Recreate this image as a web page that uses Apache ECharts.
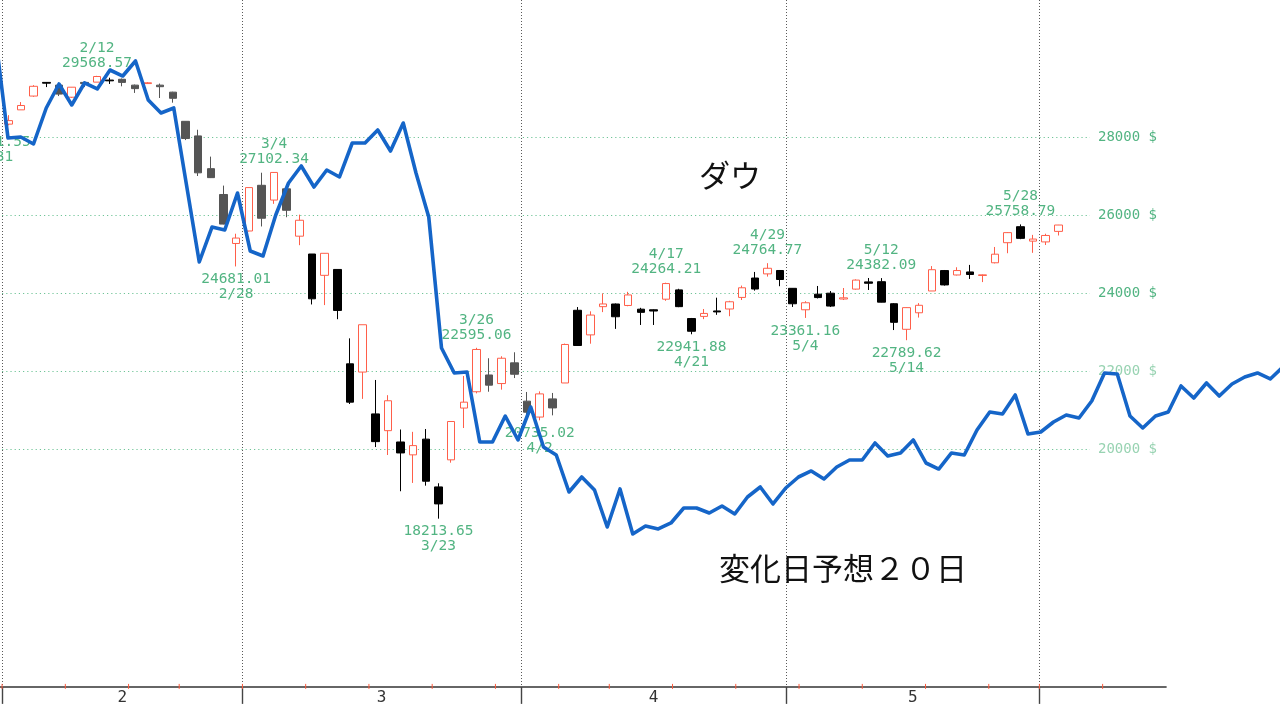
<!DOCTYPE html>
<html>
<head>
<meta charset="utf-8">
<script src="https://cdn.jsdelivr.net/npm/echarts@6/dist/echarts.min.js"></script>
<style>
html,body{margin:0;padding:0;background:#fff;}
#chart{width:1280px;height:726px;}
</style>
</head>
<body>
<div id="chart"></div>
<script>
// ---- data ----
const dates = ['1/31',
 '2/3','2/4','2/5','2/6','2/7','2/10','2/11','2/12','2/13','2/14','2/18','2/19','2/20','2/21','2/24','2/25','2/26','2/27','2/28',
 '3/2','3/3','3/4','3/5','3/6','3/9','3/10','3/11','3/12','3/13','3/16','3/17','3/18','3/19','3/20','3/23','3/24','3/25','3/26','3/27','3/30','3/31',
 '4/1','4/2','4/3','4/6','4/7','4/8','4/9','4/13','4/14','4/15','4/16','4/17','4/20','4/21','4/22','4/23','4/24','4/27','4/28','4/29','4/30',
 '5/1','5/4','5/5','5/6','5/7','5/8','5/11','5/12','5/13','5/14','5/15','5/18','5/19','5/20','5/21','5/22','5/26','5/27','5/28','5/29',
 '6/1','6/2'];
const forecastDates = ['6/3','6/4','6/5','6/8','6/9','6/10','6/11','6/12','6/15','6/16','6/17','6/18','6/19','6/22','6/23','6/24','6/25'];

// [open, close, low, high]
const ohlc = [
 [28700,28256,28201.55,28813],
 [28330,28420,28300,28560],[28696,28808,28696,28896],[29050,29300,29030,29330],[29400,29380,29280,29410],[29330,29100,29050,29360],
 [29020,29277,29000,29280],[29400,29370,29280,29415],[29407,29551,29406,29568.57],[29460,29440,29360,29520],[29480,29400,29300,29500],
 [29330,29240,29130,29345],[29370,29390,29360,29410],[29330,29290,29000,29370],[29150,28992,28880,29160],
 [28402,27961,27921,28402],[28028,27081,27000,28186],[27188,26958,26948,27497],[26526,25767,25760,26754],[25270,25409,24681.01,25520],
 [25590,26703,25580,26706],[26762,25917,25706,27084],[26383,27091,26286,27102.34],[26671,26121,25943,26671],[25457,25865,25226,26009],
 [25000,23851,23706,25000],[24453,25018,23690,25020],[24604,23553,23328,24604],[22184,21201,21154,22837],[21973,23186,21285,23186],
 [20900,20189,20050,21770],[20470,21237,19846,21380],[20180,19899,18917,20500],[19850,20087,19130,20440],[20253,19174,19060,20513],
 [19028,18592,18213.65,19121],[19722,20705,19649,20705],[21050,21201,20538,21872],[21468,22552,21427,22595.06],[21898,21637,21469,22327],
 [21678,22327,21522,22378],[22209,21917,21819,22480],
 [21227,20944,20784,21462],[20819,21413,20735.02,21477],[21285,21053,20863,21437],[21693,22680,21693,22703],[23557,22654,22648,23640],
 [22926,23434,22700,23530],[23650,23719,23510,23990],[23718,23391,23080,23730],[23680,23950,23660,24030],[23585,23504,23180,23620],
 [23570,23538,23180,23580],[23841,24242,23800,24264.21],[24080,23650,23637,24108],[23345,23019,22941.88,23360],[23400,23476,23330,23590],
 [23540,23515,23440,23880],[23590,23775,23405,23800],[23887,24134,23820,24190],[24384,24102,24060,24540],[24490,24634,24420,24764.77],
 [24577,24346,24174,24590],
 [24120,23724,23642,24128],[23570,23750,23361.16,23790],[23970,23883,23860,24180],[23995,23665,23640,24050],[23846,23876,23820,24128],
 [24100,24331,24086,24350],[24285,24250,24077,24385],[24290,23765,23760,24382.09],[23725,23248,23050,23740],[23069,23625,22789.62,23632],
 [23493,23685,23370,23740],[24052,24597,24052,24690],[24575,24207,24190,24590],[24462,24576,24450,24660],[24540,24474,24360,24720],
 [24450,24465,24280,24475],[24775,24995,24760,25180],[25290,25548,25020,25560],[25700,25401,25380,25758.79],[25330,25383,25030,25490],
 [25310,25475,25230,25520],[25580,25743,25475,25745]
];

// forecast line (変化日予想２０日), from 1/31 to 6/25
const forecast = [
 30616,27975,28000,27821,28744,29359,28821,29385,29231,29718,29564,29949,28949,28616,28744,26769,24795,25692,25616,26564,
 25077,24949,26000,26821,27257,26718,27154,26975,27846,27846,28180,27641,28359,27077,25949,22590,21949,21975,20180,20180,
 20846,20231,21077,20051,19846,18898,19282,18949,18000,18975,17821,18026,17949,18103,18487,18487,18359,18539,18334,18769,
 19026,18590,19000,19282,19436,19231,19539,19718,19718,20154,19821,19898,20231,19641,19487,19898,19846,20487,20949,20898,
 21385,20385,20436,20693,20872,20795,21231,21949,21923,20846,20539,20846,20949,21616,21308,21693,21359,21667,21846,21949,
 21795,22103
];

const highDates = ['2/12','3/4','3/26','4/17','4/29','5/12','5/28'];
const highValues = [29568.57,27102.34,22595.06,24264.21,24764.77,24382.09,25758.79];
const lowDates = ['1/31','2/28','3/23','4/2','4/21','5/4','5/14'];
const lowValues = [28201.55,24681.01,18213.65,20735.02,22941.88,23361.16,22789.62];

const priceTicks = [20000, 22000, 24000, 26000, 28000];

// candles drawn in grey in the picture
const greyDays = ['2/7','2/11','2/14','2/18','2/20','2/21','2/24','2/25','2/26','2/27','3/3','3/5','3/27','3/31','4/1','4/3'];

// ---- derived ----
const axisDates = dates.concat(forecastDates.slice(0, 8));
const blueDates = dates.concat(forecastDates);
function toDate(s){ const p = s.split('/').map(Number); return new Date(2020, p[0]-1, p[1]); }
const monthStarts = [], weekStarts = [];
for (let i = 1; i < axisDates.length; i++) {
  const a = toDate(axisDates[i-1]), b = toDate(axisDates[i]);
  if (a.getMonth() !== b.getMonth()) monthStarts.push(i);
  if (b.getDay() <= a.getDay()) weekStarts.push(i);
}
const monthLabels = [];
for (let k = 0; k + 1 < monthStarts.length; k++) {
  monthLabels.push([monthStarts[k], monthStarts[k+1], String(toDate(axisDates[monthStarts[k]]).getMonth()+1)]);
}
const annots = [];
highDates.forEach((d,i)=>annots.push({idx: axisDates.indexOf(d), price: highValues[i], date: d, up: true}));
lowDates.forEach((d,i)=>annots.push({idx: axisDates.indexOf(d), price: lowValues[i], date: d, up: false}));

const Y_MIN = 13900, Y_MAX = 31600;
const GREEN = '#52b482';
const MONO = '"DejaVu Sans Mono", monospace';

const candleData = ohlc.map((v,i)=> greyDays.indexOf(dates[i]) >= 0
  ? {value: v, itemStyle: {color0: '#555', borderColor0: '#555'}}
  : v);

function bx(api, idx){
  const c = api.coord([idx, Y_MIN]);
  const w = api.size([1, 0])[0];
  return [c[0] - w/2, c[1]];
}

const chart = echarts.init(document.getElementById('chart'), null, {renderer: 'canvas'});
chart.setOption({
  animation: false,
  backgroundColor: '#fff',
  title: [
    {text: 'ダウ', left: 694, top: 155, textStyle: {fontSize: 31, fontWeight: 'normal', color: '#111', fontFamily: '"Noto Sans CJK JP"'}},
    {text: '変化日予想２０日', left: 714, top: 548, textStyle: {fontSize: 31, fontWeight: 'normal', color: '#111', fontFamily: '"Noto Sans CJK JP"'}}
  ],
  grid: [
    {left: -10.575, width: 1176.45, top: -3.4, height: 690.3, containLabel: false, outerBoundsMode: 'none'},
    {left: -11.125, width: 1300.5, top: -3.4, height: 690.3, containLabel: false, outerBoundsMode: 'none'},
    {left: -10.575, width: 1100.575, top: 137, height: 312, containLabel: false, outerBoundsMode: 'none'}
  ],
  xAxis: [
    {type: 'category', gridIndex: 0, data: axisDates, boundaryGap: true,
     axisLine: {show: true, lineStyle: {color: '#666', width: 2}},
     axisTick: {show: false}, axisLabel: {show: false}, splitLine: {show: false}},
    {type: 'category', gridIndex: 1, data: blueDates, boundaryGap: true, show: false},
    {type: 'value', gridIndex: 2, show: false}
  ],
  yAxis: [
    {type: 'value', gridIndex: 0, min: Y_MIN, max: Y_MAX, show: false, splitLine: {show: false}},
    {type: 'value', gridIndex: 1, min: Y_MIN, max: Y_MAX, show: false, splitLine: {show: false}},
    {type: 'value', gridIndex: 2, min: priceTicks[0], max: priceTicks[priceTicks.length-1], interval: 2000, position: 'right',
     axisLine: {show: false}, axisTick: {show: false},
     axisLabel: {margin: 8, formatter: function(v){ return String(v) + ' $'; }, fontFamily: MONO, fontSize: 14,
       color: function(v){ return Number(v) <= 22000 ? '#98d3b2' : GREEN; }},
     splitLine: {show: true, lineStyle: {color: '#6fc497', width: 1, type: [1.2, 3]}}}
  ],
  series: [
    { // month separators (dotted)
      type: 'custom', xAxisIndex: 0, yAxisIndex: 0, z: 1, silent: true,
      data: monthStarts.map(i=>[i, Y_MIN]),
      renderItem: function(params, api){
        const p = bx(api, api.value(0));
        const x = Math.round(p[0]) + 0.5;
        return {type: 'group', children: [
          {type: 'line', shape: {x1: x, y1: 0, x2: x, y2: p[1]-1}, style: {stroke: '#5a5a5a', lineWidth: 1, lineDash: [1, 2]}},
          {type: 'line', shape: {x1: x, y1: p[1], x2: x, y2: p[1]+17}, style: {stroke: '#444', lineWidth: 1.4}}
        ]};
      }
    },
    { // weekly ticks
      type: 'custom', xAxisIndex: 0, yAxisIndex: 0, z: 6, silent: true,
      data: weekStarts.map(i=>[i, Y_MIN]),
      renderItem: function(params, api){
        const p = bx(api, api.value(0));
        return {type: 'line', shape: {x1: p[0], y1: p[1]-3, x2: p[0], y2: p[1]+2}, style: {stroke: '#ff5a3c', lineWidth: 1}};
      }
    },
    { // month labels
      type: 'custom', xAxisIndex: 0, yAxisIndex: 0, z: 6, silent: true,
      data: monthLabels.map(m=>[m[0], Y_MIN, m[1]]),
      renderItem: function(params, api){
        const a = bx(api, api.value(0)), b = bx(api, api.value(2));
        return {type: 'text', x: (a[0]+b[0])/2, y: a[1]+11,
          style: {text: monthLabels[params.dataIndex][2], fill: '#333', font: '16px ' + MONO, align: 'center', verticalAlign: 'middle'}};
      }
    },
    {
      type: 'candlestick', xAxisIndex: 0, yAxisIndex: 0, z: 2,
      data: candleData, barWidth: 8,
      itemStyle: {color: '#ffffff', color0: '#000000', borderColor: '#ff5f4a', borderColor0: '#000000', borderWidth: 1}
    },
    { // high / low annotations
      type: 'custom', xAxisIndex: 0, yAxisIndex: 0, z: 3, silent: true,
      data: annots.map(a=>[a.idx, a.price]),
      renderItem: function(params, api){
        const a = annots[params.dataIndex];
        const c = api.coord([api.value(0), api.value(1)]);
        const s = a.up ? -1 : 1;
        const font = '14.5px ' + MONO;
        return {type: 'group', children: [
          {type: 'text', x: c[0], y: c[1] + s*13, style: {text: a.price.toFixed(2), fill: GREEN, font: font, align: 'center', verticalAlign: 'middle'}},
          {type: 'text', x: c[0], y: c[1] + s*28, style: {text: a.date, fill: GREEN, font: font, align: 'center', verticalAlign: 'middle'}}
        ]};
      }
    },
    {
      name: '変化日予想２０日', type: 'line', xAxisIndex: 1, yAxisIndex: 1, z: 5,
      data: forecast, showSymbol: false, symbol: 'none', smooth: false,
      lineStyle: {color: '#1565c8', width: 3.6, join: 'round'}
    }
  ]
});
</script>
</body>
</html>
